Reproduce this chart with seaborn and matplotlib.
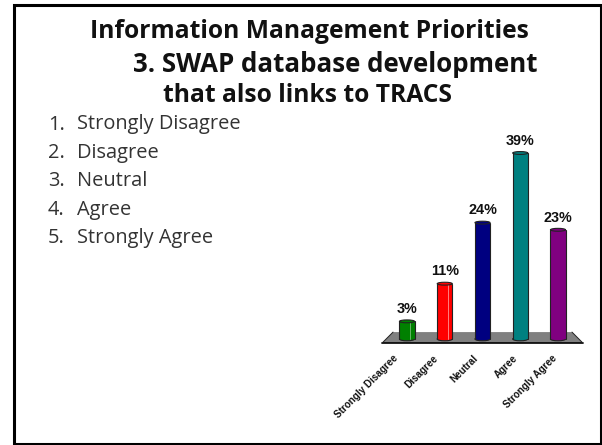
import matplotlib
matplotlib.use("Agg")
import matplotlib.pyplot as plt
from matplotlib.patches import Ellipse, Polygon, Rectangle
from matplotlib.transforms import ScaledTranslation
import seaborn as sns
import pandas as pd

categories = ["Strongly Disagree", "Disagree", "Neutral", "Agree", "Strongly Agree"]
values = [3.7, 11.6, 24.4, 39, 22.9]
labels = ["3%", "11%", "24%", "39%", "23%"]
colors = ["#008000", "#ff0000", "#000080", "#008080", "#800080"]
highlights = ["#66b366", "#ff8080", None, None, None]
title_lines = ["Information Management Priorities", "3. SWAP database development", "that also links to TRACS"]
title_xs = [90, 133, 163]
title_ys = [31, 64, 95]
title_sizes = [17.7, 18.6, 17.7]

W, H = 602, 445
sns.set_theme(style="white")
plt.rcParams["font.family"] = ["Open Sans", "DejaVu Sans"]
fig = plt.figure(figsize=(W / 100, H / 100), dpi=100, facecolor="white")

def fx(p): return p / W
def fy(p): return 1 - p / H

# slide frame, running to the right and bottom edges of the image
fig.add_artist(Rectangle((fx(13.5), fy(444)), (601 - 13.5) / W, (444 - 4.5) / H, transform=fig.transFigure,
                         fill=False, edgecolor="black", linewidth=2.2))

for t, x, y, s in zip(title_lines, title_xs, title_ys, title_sizes):
    fig.text(fx(x), fy(y), t, ha="left", va="center", fontsize=s, fontweight="bold", color="#111111")

for i, c in enumerate(categories):
    y = 124.5 + i * 28.5
    fig.text(fx(48), fy(y), f"{i + 1}.", ha="left", va="center", fontsize=14.4, color="#333333")
    fig.text(fx(77), fy(y), c, ha="left", va="center", fontsize=14.4, color="#333333")

# chart axes: x 0..4 maps to 407..558 px, y 0..39 maps to 339..153 px
ppx = 37.75
ppy = 186 / 39
left, right = 407 - 0.5 * ppx, 558 + 0.5 * ppx
ymin, ymax = -2.0, 46.0
ax = fig.add_axes([fx(left), fy(339 - ymin * ppy), (right - left) / W, (ymax - ymin) * ppy / H])
df = pd.DataFrame({"category": categories, "value": values})
sns.barplot(data=df, x="category", y="value", hue="category", palette=colors, legend=False,
            width=0.4, saturation=1, ax=ax, zorder=3, edgecolor="none")
ax.set_xlim(-0.5, 4.5)
ax.set_ylim(ymin, ymax)
ax.patch.set_alpha(0)
for s in ax.spines.values():
    s.set_visible(False)
ax.set_xlabel("")
ax.set_ylabel("")
ax.set_yticks([])
ax.set_xticks(range(len(categories)))
ax.set_xticklabels(categories, rotation=45, ha="right", rotation_mode="anchor",
                   fontsize=7.1, fontweight="bold", family=["Liberation Sans"], color="#111111")
ax.tick_params(axis="x", length=0, pad=9)
for i, lab in enumerate(ax.get_xticklabels()):
    shift = ScaledTranslation((-10 + (i - 2) * 2) / 100, 8 / 100, fig.dpi_scale_trans)
    lab.set_transform(lab.get_transform() + shift)

# floor of the pseudo-3D chart
floor = Polygon([(-0.66, -0.85), (4.66, -0.85), (4.37, 1.45), (-0.37, 1.45)], closed=True, facecolor="#808080",
                edgecolor="none", zorder=1, clip_on=False)
ax.add_patch(floor)
ax.plot([-0.66, 4.66], [-0.85, -0.85], color="black", lw=1.2, zorder=2, clip_on=False)
ax.plot([-0.66, -0.37], [-0.85, 1.45], color="#222222", lw=0.7, zorder=2, clip_on=False)
ax.plot([4.66, 4.37], [-0.85, 1.45], color="#222222", lw=0.7, zorder=2, clip_on=False)

# cylinder details from each bar's own geometry
for bar, col, lab, hi in zip(ax.patches, colors, labels, highlights):
    x0, w, h = bar.get_x(), bar.get_width(), bar.get_height()
    cx = x0 + w / 2
    ax.add_patch(Ellipse((cx, 0), w, 0.75, facecolor=col, edgecolor="#222222", lw=0.8, zorder=2.5))
    ax.add_patch(Ellipse((cx, h), w, 0.6, facecolor=col, edgecolor="#222222", lw=0.8, zorder=4))
    ax.plot([x0, x0], [0, h], color="#222222", lw=0.8, zorder=4)
    ax.plot([x0 + w, x0 + w], [0, h], color="#222222", lw=0.8, zorder=4)
    if hi:
        ax.plot([x0 + 0.72 * w] * 2, [0, h], color=hi, lw=0.7, zorder=3.5)
    ax.text(cx, h + 1.1, lab, ha="center", va="bottom", fontsize=10.4, fontweight="bold",
            family=["Liberation Sans"], color="#111111", zorder=5)

fig.savefig("out.png", dpi=100)
